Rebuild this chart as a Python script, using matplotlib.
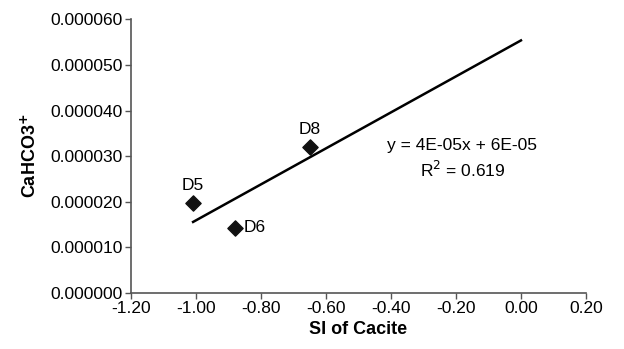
import numpy as np
import matplotlib.pyplot as plt

plt.rcParams["font.family"] = ["Liberation Sans", "DejaVu Sans"]

# ── Data ───────────────────────────────────────────────────────────────────
labels = ["D5", "D6", "D8"]
si_calcite = [-1.009, -0.879, -0.649]
cahco3 = [0.0000197, 0.0000143, 0.0000321]

x_ticks = [-1.20, -1.00, -0.80, -0.60, -0.40, -0.20, 0.00, 0.20]
y_ticks = [0.0, 0.00001, 0.00002, 0.00003, 0.00004, 0.00005, 0.00006]

# linear trendline, drawn from the first point forward to x = 0
slope, intercept = np.polyfit(si_calcite, cahco3, 1)
r2 = np.corrcoef(si_calcite, cahco3)[0, 1] ** 2
x_line = np.array([min(si_calcite), 0.0])
y_line = slope * x_line + intercept

fig = plt.figure(figsize=(6.24, 3.49), dpi=100)
ax = fig.add_axes([0.21, 0.16, 0.729, 0.785])

ax.plot(x_line, y_line, color="black", lw=1.8, zorder=2)
ax.scatter(si_calcite, cahco3, marker="D", s=60, color="#111111", zorder=3)

offsets = {"D5": (0, 7, "center", "bottom"),
           "D6": (6, 0, "left", "center"),
           "D8": (0, 7, "center", "bottom")}
for lab, x, y in zip(labels, si_calcite, cahco3):
    dx, dy, ha, va = offsets[lab]
    ax.annotate(lab, (x, y), xytext=(dx, dy), textcoords="offset points",
                ha=ha, va=va, fontsize=12.5)

ax.text(-0.18, 0.0000324, "y = 4E-05x + 6E-05", ha="center", va="center", fontsize=12.5)
ax.text(-0.18, 0.0000270, f"R$^2$ = {r2:.3f}", ha="center", va="center", fontsize=12.5)

ax.set_xlim(-1.2, 0.2)
ax.set_ylim(0, 0.00006)
ax.set_xticks(x_ticks)
ax.set_xticklabels([f"{v:.2f}" for v in x_ticks])
ax.set_yticks(y_ticks)
ax.set_yticklabels([f"{v:.6f}" for v in y_ticks])
ax.tick_params(labelsize=12.5, direction="out", length=4, color="#555555", width=1, pad=2)

for side in ["top", "right"]:
    ax.spines[side].set_visible(False)
for side in ["left", "bottom"]:
    ax.spines[side].set_color("#555555")
    ax.spines[side].set_linewidth(1.2)

ax.set_xlabel("SI of Cacite", fontsize=13, fontweight="bold", labelpad=3)
ax.set_ylabel(r"CaHCO3$^\mathbf{+}$", fontsize=13, fontweight="bold", labelpad=8)

plt.savefig("out.png", dpi=100)
